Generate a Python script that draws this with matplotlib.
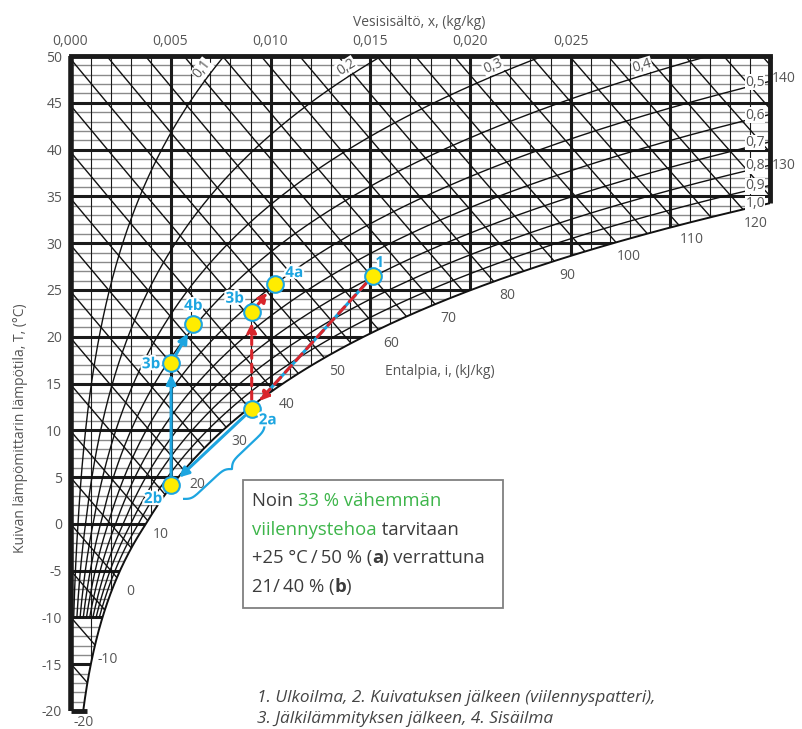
import numpy as np
import matplotlib
matplotlib.use("Agg")
import matplotlib.pyplot as plt
from matplotlib.patches import Polygon, Rectangle
import matplotlib.patheffects as pe

plt.rcParams['font.family'] = ['Open Sans', 'DejaVu Sans']

# chart data
x_ticks = [0.000, 0.005, 0.010, 0.015, 0.020, 0.025]
x_tick_labels = ['0,000', '0,005', '0,010', '0,015', '0,020', '0,025']
t_ticks = list(range(-20, 55, 5))
rh_levels = [0.1, 0.2, 0.3, 0.4, 0.5, 0.6, 0.7, 0.8, 0.9, 1.0]
rh_labels = ['0,1', '0,2', '0,3', '0,4', '0,5', '0,6', '0,7', '0,8', '0,9', '1,0']
h_lines = list(range(-20, 145, 5))
h_labels = list(range(-20, 150, 10))

# process points
pt_labels = ['1', '2a', '3b', '4a', '2b', '3b', '4b']
pt_x = [0.01511, 0.00906, 0.00906, 0.01024, 0.00503, 0.00503, 0.00614]
pt_t = [26.49, 12.24, 22.67, 25.63, 4.15, 17.16, 21.36]
pt_off = [(7, 13), (16, -11), (-17, 13), (19, 11), (-18, -14), (-20, -1), (0, 18)]

X_MAX = 0.035
P = 101.325
BLUE = '#1DA5E0'
RED = '#D9252B'
GREEN = '#3DB54A'
GRAY = '#555555'


def p_sat(t):
    t = np.asarray(t, dtype=float)
    water = 0.61094 * np.exp(17.625 * t / (t + 243.04))
    ice = 0.61115 * np.exp(22.452 * t / (272.55 + t))
    return np.where(t >= 0, water, ice)


def x_of(phi, t):
    ps = phi * p_sat(t)
    return 0.622 * ps / (P - ps)


def t_of_h(h, x):
    return (h - 2501 * x) / (1.006 + 1.86 * x)


W, H = 803, 729
fig = plt.figure(figsize=(W / 100, H / 100), dpi=100)
ax = fig.add_axes([70.5 / W, 1 - 711 / H, 700 / W, 655 / H])
ax.set_xlim(0, X_MAX)
ax.set_ylim(-20, 50)
for s in ax.spines.values():
    s.set_visible(False)

t_curve = np.linspace(-20, 50, 2001)
x_curve = x_of(1.0, t_curve)
t_edge = float(np.interp(X_MAX, x_curve, t_curve))
h_curve = 1.006 * t_curve + x_curve * (2501 + 1.86 * t_curve)

tt = np.linspace(-20, t_edge, 400)[::-1]
verts = [(0, 50), (X_MAX, 50), (X_MAX, t_edge)] + list(zip(x_of(1.0, tt), tt)) + [(0, -20)]
clip = Polygon(verts, closed=True, transform=ax.transData, fc='none', ec='none')
ax.add_patch(clip)


def clipped(xs, ys, **kw):
    ln, = ax.plot(xs, ys, **kw)
    ln.set_clip_path(clip)
    return ln


# temperature grid
for t in range(-20, 51):
    if t % 5:
        clipped([0, X_MAX], [t, t], color='#8a8a8a', lw=1.0, zorder=1)
    else:
        clipped([0, X_MAX], [t, t], color='#1a1a1a', lw=2.2, zorder=2)

# moisture grid
for i in range(1, 35):
    x = i * 0.001
    if i % 5:
        clipped([x, x], [-20, 50], color='#1a1a1a', lw=0.8, zorder=1)
    else:
        clipped([x, x], [-20, 50], color='#1a1a1a', lw=2.2, zorder=2)

# enthalpy lines
xs = np.linspace(0, X_MAX, 300)
for h in h_lines:
    clipped(xs, t_of_h(h, xs), color='#111111', lw=1.0, zorder=2)

# relative humidity curves
tr = np.linspace(-10, 50, 400)
for phi in rh_levels[:-1]:
    clipped(x_of(phi, tr), tr, color='#111111', lw=1.0, zorder=2)
ts = np.linspace(-20, t_edge, 400)
ax.plot(x_of(1.0, ts), ts, color='#111111', lw=1.4, zorder=3)

# borders
ax.plot([0, 0], [-20, 50], color='#1a1a1a', lw=4, solid_capstyle='butt', zorder=4, clip_on=False)
ax.plot([0, X_MAX], [50, 50], color='#1a1a1a', lw=3.5, solid_capstyle='projecting', zorder=4, clip_on=False)
ax.plot([X_MAX, X_MAX], [t_edge, 50], color='#1a1a1a', lw=3.5, solid_capstyle='butt', zorder=4, clip_on=False)
ax.plot([0, x_of(1.0, -20) + 0.0002], [-20, -20], color='#1a1a1a', lw=3.5, solid_capstyle='butt', zorder=4, clip_on=False)

# axes ticks
ax.xaxis.tick_top()
ax.set_xticks(x_ticks)
ax.set_xticklabels(x_tick_labels)
ax.set_yticks(t_ticks)
ax.set_yticklabels([str(t) for t in t_ticks])
ax.tick_params(length=0, labelsize=10, colors=GRAY, pad=5)
ax.tick_params(axis='y', pad=6)

fig.text(419 / W, 1 - 22 / H, 'Vesisisältö, x, (kg/kg)', ha='center', va='center', fontsize=10, color=GRAY)
fig.text(21 / W, 1 - 428 / H, 'Kuivan lämpömittarin lämpötila, T, (°C)', ha='center', va='center',
         rotation=90, fontsize=10, color=GRAY)
fig.text(385 / W, 1 - 371 / H, 'Entalpia, i, (kJ/kg)', ha='left', va='center', fontsize=10, color=GRAY)

# enthalpy labels
for h in h_labels:
    if h <= -20:
        xh, th = 0.0, -20.0
        off = (13, -12)
    elif h > 125:
        xh, th = X_MAX, t_of_h(h, X_MAX)
        off = (13, -13)
    else:
        th = float(np.interp(h, h_curve, t_curve))
        xh = float(x_of(1.0, th))
        off = (13, -14)
    ax.annotate(str(h), (xh, th), xytext=off, textcoords='offset pixels', ha='center', va='center',
                fontsize=10, color=GRAY, annotation_clip=False)

# relative humidity labels
to_px = ax.transData.transform
for phi, lab in zip(rh_levels, rh_labels):
    if phi <= 0.4:
        t0 = 48.0
        p0 = to_px((float(x_of(phi, t0)), t0))
        p1 = to_px((float(x_of(phi, t0 + 0.3)), t0 + 0.3))
        d = (p1 - p0) / np.hypot(*(p1 - p0))
        ang = np.degrees(np.arctan2(d[1], d[0]))
        nrm = np.array([-d[1], d[0]]) * 9
        ax.annotate(lab, (float(x_of(phi, t0)), t0), xytext=(nrm[0], nrm[1]), textcoords='offset pixels',
                    rotation=ang, rotation_mode='anchor', ha='center', va='center', fontsize=10,
                    color=GRAY, zorder=6,
                    bbox=dict(fc='white', ec='none', pad=0.3))
    else:
        xl = 0.03423
        tl = float(np.interp(xl, x_of(phi, t_curve), t_curve))
        ax.annotate(lab, (xl, tl), xytext=(0, 3), textcoords='offset pixels', ha='center', va='center',
                    fontsize=10, color=GRAY, zorder=6,
                    bbox=dict(fc='white', ec='none', pad=0.3))

# process lines
def pt(i):
    return (pt_x[i], pt_t[i])

arr = dict(arrowstyle='-|>', mutation_scale=14, lw=2.2, shrinkA=7, shrinkB=8)
# 1 -> 2a, blue under red dashes
ax.annotate('', xy=pt(1), xytext=pt(0), zorder=5,
            arrowprops=dict(arrowstyle='-', lw=2.2, color=BLUE, shrinkA=7, shrinkB=12))
ax.annotate('', xy=pt(1), xytext=pt(0), zorder=5,
            arrowprops=dict(arr, color=RED, linestyle=(0, (3, 2.2))))
# 2a -> 2b -> 3b -> 4b (blue, solid)
for a, b in [(1, 4), (4, 5), (5, 6)]:
    ax.annotate('', xy=pt(b), xytext=pt(a), zorder=5, arrowprops=dict(arr, color=BLUE))
# 2a -> 3b -> 4a (red, dashed)
for a, b in [(1, 2), (2, 3)]:
    ax.annotate('', xy=pt(b), xytext=pt(a), zorder=5,
                arrowprops=dict(arr, color=RED, linestyle=(0, (2.6, 1.9))))

ax.plot(pt_x, pt_t, 'o', ms=12, mfc='#FFEC00', mec=BLUE, mew=1.5, zorder=7, clip_on=False)
for x, t, lab, off in zip(pt_x, pt_t, pt_labels, pt_off):
    ax.annotate(lab, (x, t), xytext=off, textcoords='offset pixels', ha='center', va='center',
                fontsize=11, fontweight='bold', color=BLUE, zorder=8,
                path_effects=[pe.withStroke(linewidth=3, foreground='white')])

# brace beside 2a -> 2b
A = to_px(pt(1))
B = to_px(pt(4))
L = np.hypot(*(B - A))
d = (B - A) / L
n = np.array([-d[1], d[0]])
u = np.linspace(0, L, 301)
half = u[:151]
beta = 0.35
vh = 1 / (1 + np.exp(-beta * (half - half[0]))) + 1 / (1 + np.exp(-beta * (half - half[-1])))
v = np.concatenate((vh, vh[-2::-1])) - 0.5
pts = A + np.outer(u, d) + np.outer(19 + 11 * v, n)
bd = ax.transData.inverted().transform(pts)
ax.plot(bd[:, 0], bd[:, 1], color=BLUE, lw=1.6, zorder=5, clip_on=False)

# info box
fig.patches.append(Rectangle((243 / W, 1 - 608 / H), 260 / W, 128 / H, transform=fig.transFigure,
                             fc='white', ec='#808080', lw=1.3, zorder=10))
renderer = fig.canvas.get_renderer()


def text_width(s, size, weight, style='normal'):
    t1 = fig.text(0, 0, 'x' + s + 'x', fontsize=size, fontweight=weight, fontstyle=style)
    t2 = fig.text(0, 0, 'xx', fontsize=size, fontweight=weight, fontstyle=style)
    w = t1.get_window_extent(renderer).width - t2.get_window_extent(renderer).width
    t1.remove()
    t2.remove()
    return w


def rich_line(x_px, y_px, parts, size):
    x = x_px
    for s, color, weight in parts:
        fig.text(x / W, 1 - y_px / H, s, color=color, fontweight=weight, fontsize=size,
                 ha='left', va='center', zorder=11)
        x += text_width(s, size, weight)


DARK = '#3c3c3c'
box_lines = [
    [('Noin ', DARK, 'normal'), ('33 % vähemmän', GREEN, 'normal')],
    [('viilennystehoa', GREEN, 'normal'), (' tarvitaan', DARK, 'normal')],
    [('+25 °C\u2009/\u200950 % (', DARK, 'normal'), ('a', DARK, 'bold'), (') verrattuna', DARK, 'normal')],
    [('21/\u200940 % (', DARK, 'normal'), ('b', DARK, 'bold'), (')', DARK, 'normal')],
]
for k, parts in enumerate(box_lines):
    rich_line(252, 501 + k * 28.6, parts, 13.3)

fig.text(257 / W, 1 - 698 / H, '1. Ulkoilma, 2. Kuivatuksen jälkeen (viilennyspatteri),', fontsize=12.4,
         fontstyle='italic', color='#444444', ha='left', va='center')
fig.text(257 / W, 1 - 719 / H, '3. Jälkilämmityksen jälkeen, 4. Sisäilma', fontsize=12.4,
         fontstyle='italic', color='#444444', ha='left', va='center')

fig.savefig('out.png', dpi=100)
